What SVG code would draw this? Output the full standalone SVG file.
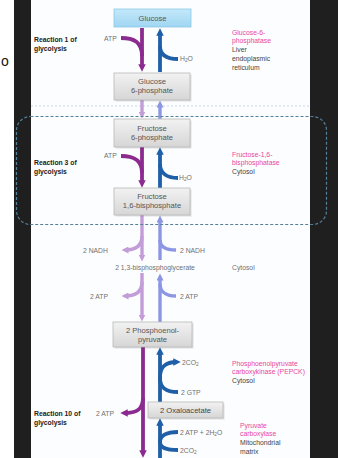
<svg xmlns="http://www.w3.org/2000/svg" width="338" height="458" viewBox="0 0 338 458">
<defs>
<style>
.t{font-family:"Liberation Sans",Arial,sans-serif;font-size:6.8px;fill:#707070}
.b{font-family:"Liberation Sans",Arial,sans-serif;font-size:6.8px;font-weight:bold;fill:#222}
.p{font-family:"Liberation Sans",Arial,sans-serif;font-size:6.8px;fill:#e8469e}
.k{font-family:"Liberation Sans",Arial,sans-serif;font-size:6.8px;fill:#444}
.bx{font-family:"Liberation Sans",Arial,sans-serif;font-size:7.6px;fill:#555;text-anchor:middle}
.box{fill:url(#gg);stroke:#b8b8b8;stroke-width:0.8}
.sh{fill:#000;opacity:0.12}
.pu{fill:none;stroke:#8b2b8f;stroke-width:3.8}
.bl{fill:none;stroke:#1f5fa8;stroke-width:3.8}
.lp{fill:none;stroke:#c29dd8;stroke-width:3.4}
.lb{fill:none;stroke:#8c96e2;stroke-width:3.4}
</style>
<linearGradient id="gg" x1="0" y1="0" x2="0" y2="1"><stop offset="0" stop-color="#f2f2f2"/><stop offset="1" stop-color="#d6d6d6"/></linearGradient>
<linearGradient id="gb" x1="0" y1="0" x2="0" y2="1"><stop offset="0" stop-color="#c4e8fa"/><stop offset="1" stop-color="#9fd6f2"/></linearGradient>
<marker id="mpu" viewBox="0 0 10 10" refX="5" refY="5" markerUnits="userSpaceOnUse" markerWidth="7.5" markerHeight="7.5" orient="auto"><path d="M0,0L10,5L0,10z" fill="#8b2b8f"/></marker>
<marker id="mbl" viewBox="0 0 10 10" refX="5" refY="5" markerUnits="userSpaceOnUse" markerWidth="7.5" markerHeight="7.5" orient="auto"><path d="M0,0L10,5L0,10z" fill="#1f5fa8"/></marker>
<marker id="mlp" viewBox="0 0 10 10" refX="5" refY="5" markerUnits="userSpaceOnUse" markerWidth="7" markerHeight="7" orient="auto"><path d="M0,0L10,5L0,10z" fill="#c29dd8"/></marker>
<marker id="mlb" viewBox="0 0 10 10" refX="5" refY="5" markerUnits="userSpaceOnUse" markerWidth="7" markerHeight="7" orient="auto"><path d="M0,0L10,5L0,10z" fill="#8c96e2"/></marker>
</defs>
<rect x="0" y="0" width="338" height="458" fill="#ffffff"/>
<text x="1" y="66" font-family="Liberation Sans,Arial,sans-serif" font-size="14" fill="#111">o</text>
<rect x="14" y="0" width="17" height="458" fill="#1f1f1f"/>
<rect x="310" y="0" width="28" height="458" fill="#1f1f1f"/>
<rect x="31" y="0" width="279" height="458" fill="#fcfdfe"/>
<line x1="31" y1="106" x2="310" y2="106" stroke="#c9d3e6" stroke-width="1" stroke-dasharray="2,2"/>

<g id="connectors">
<line class="pu" x1="142" y1="28" x2="142" y2="68" marker-end="url(#mpu)"/>
<path class="pu" d="M121,38 C134,38 142,42 142,56"/>
<line class="bl" x1="160" y1="72" x2="160" y2="32" marker-end="url(#mbl)"/>
<path class="bl" d="M160,46 C160,56 168,59 178,59"/>
<line class="lp" x1="142" y1="100" x2="142" y2="115" marker-end="url(#mlp)"/>
<line class="lb" x1="160" y1="119" x2="160" y2="104" marker-end="url(#mlb)"/>
<line class="pu" x1="142" y1="147" x2="142" y2="184" marker-end="url(#mpu)"/>
<path class="pu" d="M121,156 C134,156 142,160 142,173"/>
<line class="bl" x1="160" y1="188" x2="160" y2="151" marker-end="url(#mbl)"/>
<path class="bl" d="M160,164 C160,174 168,178 178,178"/>
<line class="lp" x1="142" y1="215" x2="142" y2="258" marker-end="url(#mlp)"/>
<path class="lp" d="M142,236 C142,246 136,250 125,250" marker-end="url(#mlp)"/>
<line class="lb" x1="160" y1="260" x2="160" y2="219" marker-end="url(#mlb)"/>
<path class="lb" d="M160,240 C160,246 164,250 176,250"/>
<line class="lp" x1="142" y1="273" x2="142" y2="318" marker-end="url(#mlp)"/>
<path class="lp" d="M142,282 C142,292 136,296 125,296" marker-end="url(#mlp)"/>
<line class="lb" x1="160" y1="322" x2="160" y2="277" marker-end="url(#mlb)"/>
<path class="lb" d="M160,284 C160,290 164,296 176,296"/>
<line class="pu" x1="143" y1="347" x2="143" y2="454" marker-end="url(#mpu)"/>
<path class="pu" d="M143,398 C143,410 136,413 124,413" marker-end="url(#mpu)"/>
<line class="bl" x1="160" y1="402" x2="160" y2="351" marker-end="url(#mbl)"/>
<path class="bl" d="M160,378 C160,368 164,362 177,362" marker-end="url(#mbl)"/>
<path class="bl" d="M178,392 C166,392 160,388 160,378"/>
<line class="bl" x1="160" y1="458" x2="160" y2="422" marker-end="url(#mbl)"/>
<path class="bl" d="M178,432 C166,432 160,436 160,442"/>
<path class="bl" d="M178,450 C166,450 160,448 160,442"/>
</g>

<rect x="16.5" y="116.5" width="310" height="108" rx="14" fill="none" stroke="#55809a" stroke-width="1.2" stroke-dasharray="3,2"/>

<g id="glucose">
<rect x="114" y="9" width="77" height="18" fill="url(#gb)" stroke="#8cc8e6" stroke-width="0.8"/>
<text class="bx" x="152.5" y="20.5">Glucose</text>
</g>
<g id="g6p">
<rect class="sh" x="115.5" y="74.5" width="76" height="27"/>
<rect class="box" x="114" y="73" width="76" height="27"/>
<text class="bx" x="152" y="84">Glucose</text>
<text class="bx" x="152" y="93">6-phosphate</text>
</g>
<g id="f6p">
<rect class="sh" x="115.5" y="120.5" width="76" height="28"/>
<rect class="box" x="114" y="119" width="76" height="28"/>
<text class="bx" x="152" y="130.5">Fructose</text>
<text class="bx" x="152" y="139.5">6-phosphate</text>
</g>
<g id="f16bp">
<rect class="sh" x="115.5" y="189.5" width="76" height="27"/>
<rect class="box" x="114" y="188" width="76" height="27"/>
<text class="bx" x="152" y="199">Fructose</text>
<text class="bx" x="152" y="208">1,6-bisphosphate</text>
</g>
<g id="bpg">
<text class="t" x="155" y="270" text-anchor="middle">2  1,3-bisphosphoglycerate</text>
</g>
<g id="pep">
<rect class="sh" x="114.5" y="323.5" width="79" height="25"/>
<rect class="box" x="113" y="322" width="79" height="25"/>
<text class="bx" x="152.5" y="333">2 Phosphoenol-</text>
<text class="bx" x="152.5" y="342">pyruvate</text>
</g>
<g id="oaa">
<rect class="sh" x="149.5" y="403.5" width="75" height="16"/>
<rect class="box" x="148" y="402" width="75" height="16"/>
<text class="bx" x="185.5" y="413" style="fill:#444">2 Oxaloacetate</text>
</g>

<g id="labels">
<text class="b" x="34" y="42">Reaction 1 of</text>
<text class="b" x="34" y="51">glycolysis</text>
<text class="t" x="104" y="41">ATP</text>
<text class="t" x="180" y="61">H<tspan font-size="4.8" dy="1.2">2</tspan><tspan dy="-1.2">O</tspan></text>
<text class="p" x="232" y="35">Glucose-6-</text>
<text class="p" x="232" y="43">phosphatase</text>
<text class="k" x="232" y="52">Liver</text>
<text class="k" x="232" y="61">endoplasmic</text>
<text class="k" x="232" y="70">reticulum</text>

<text class="b" x="34" y="165">Reaction 3 of</text>
<text class="b" x="34" y="174">glycolysis</text>
<text class="t" x="104" y="158">ATP</text>
<text class="t" x="179" y="180">H<tspan font-size="4.8" dy="1.2">2</tspan><tspan dy="-1.2">O</tspan></text>
<text class="p" x="232" y="157">Fructose-1,6-</text>
<text class="p" x="232" y="165">bisphosphatase</text>
<text class="k" x="232" y="174">Cytosol</text>

<text class="t" x="83" y="252.5">2 NADH</text>
<text class="t" x="180" y="252.5">2 NADH</text>
<text class="t" x="232" y="270">Cytosol</text>
<text class="t" x="90" y="298.5">2 ATP</text>
<text class="t" x="180" y="298.5">2 ATP</text>

<text class="t" x="182" y="364.5">2CO<tspan font-size="4.8" dy="1.2">2</tspan></text>
<text class="t" x="181" y="394.5">2 GTP</text>
<text class="p" x="232" y="366">Phosphoenolpyruvate</text>
<text class="p" x="232" y="374">carboxykinase (PEPCK)</text>
<text class="k" x="232" y="383">Cytosol</text>

<text class="b" x="34" y="416">Reaction 10 of</text>
<text class="b" x="34" y="425">glycolysis</text>
<text class="t" x="96" y="416">2 ATP</text>
<text class="t" x="180" y="435">2 ATP + 2H<tspan font-size="4.8" dy="1.2">2</tspan><tspan dy="-1.2">O</tspan></text>
<text class="t" x="180" y="452.5">2CO<tspan font-size="4.8" dy="1.2">2</tspan></text>
<text class="p" x="240" y="428">Pyruvate</text>
<text class="p" x="240" y="436">carboxylase</text>
<text class="k" x="240" y="445">Mitochondrial</text>
<text class="k" x="240" y="454">matrix</text>
</g>
</svg>
